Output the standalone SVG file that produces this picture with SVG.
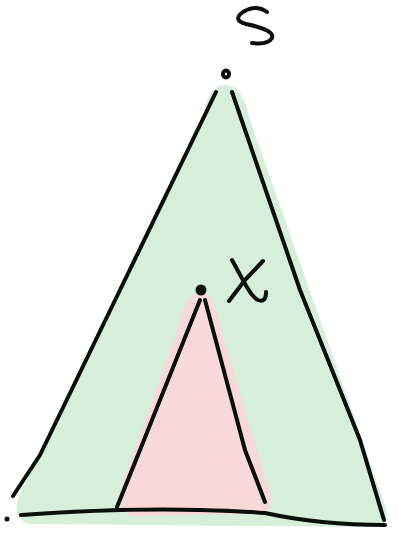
<svg xmlns="http://www.w3.org/2000/svg" width="399" height="535" viewBox="0 0 399 535">
<style>
.ink{fill:none;stroke:#0a0f0a;stroke-width:4;stroke-linecap:round;stroke-linejoin:round}
.g{fill:#d6efdb}
.r{fill:#f8d8d8}
</style>
<g id="outer">
<path class="g" d="M212,92 Q222,80 236,88 Q246,100 250,120 L385,505 Q392,525 372,527 L30,524 Q12,520 18,498 L205,112 Q206,98 212,92 Z"/>
</g>
<g id="inner">
<path class="r" d="M190,298 Q200,286 212,298 Q218,312 220,325 L266,480 Q278,508 262,514 L132,516 Q114,508 121,488 L178,330 Q182,308 190,298 Z"/>
</g>
<g id="connectors">
<path class="ink" d="M216,92 L120,290 L40,455 L13,496"/>
<path class="ink" d="M232,92 L300,290 L360,440 L384,520"/>
<path class="ink" d="M21,515 Q120,508 200,510 Q240,511 265,513 Q320,525 385,525"/>
<path class="ink" d="M200,300 L170,375 L140,450 L117,507"/>
<path class="ink" d="M205,300 L225,375 L245,450 L265,502"/>
</g>
<g id="S">
<path class="ink" d="M267,12 Q256,4 243,12 Q232,20 246,24 Q275,30 272,38 Q268,45 252,43"/>
</g>
<g id="apex">
<ellipse cx="226" cy="74" rx="3" ry="3.5" class="ink" stroke-width="3"/>
</g>
<g id="X">
<circle cx="201" cy="290" r="5.5" fill="#0a0f0a"/>
<path class="ink" d="M232,260 L244,282 Q252,297 258,300 Q266,303 266,292"/>
<path class="ink" d="M263,261 L245,280 L229,301"/>
</g>
<g id="dot">
<circle cx="7" cy="519" r="2.5" fill="#0a0f0a"/>
</g>
</svg>
